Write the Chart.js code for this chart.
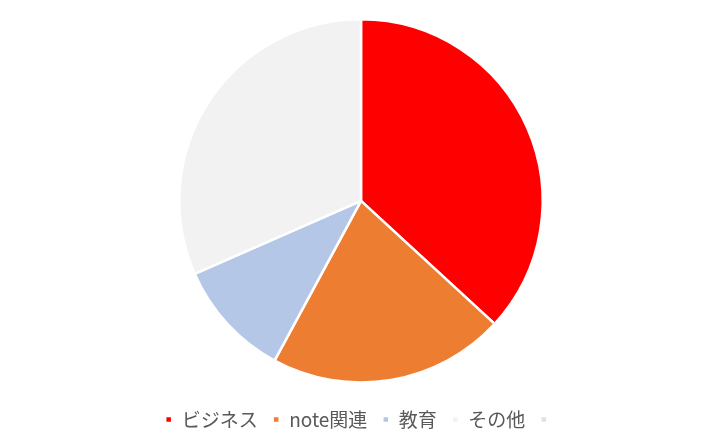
<!DOCTYPE html>
<html><head><meta charset="utf-8">
<script src="https://cdn.jsdelivr.net/npm/chart.js@4"></script>
<style>html,body{margin:0;padding:0;background:#fff}#w{width:722px;height:448px}</style>
</head><body><div id="w"><canvas id="c"></canvas></div>
<script>
const categories = ['ビジネス', 'note関連', '教育', 'その他', ''];
const values = [35, 20, 10, 30, 0];
const colors = ['#ff0000', '#ed7d31', '#b4c7e7', '#f2f2f2', '#dae3f3'];

new Chart(document.getElementById('c'), {
  type: 'pie',
  data: { labels: categories, datasets: [{ data: values, backgroundColor: colors, borderColor: '#ffffff', borderWidth: 2.5 }] },
  options: {
    responsive: true, maintainAspectRatio: false, animation: false,
    layout: { padding: { top: 18, bottom: 9 } },
    plugins: {
      tooltip: { enabled: false },
      legend: {
        position: 'bottom',
        title: { display: true, text: '', font: { size: 1 }, padding: { top: 0, bottom: 10 } },
        labels: {
          boxWidth: 7, boxHeight: 7, padding: 15,
          color: '#595959',
          font: { family: '"Noto Sans CJK JP", "Noto Sans", sans-serif', size: 19 }
        }
      }
    }
  }
});
</script></body></html>
